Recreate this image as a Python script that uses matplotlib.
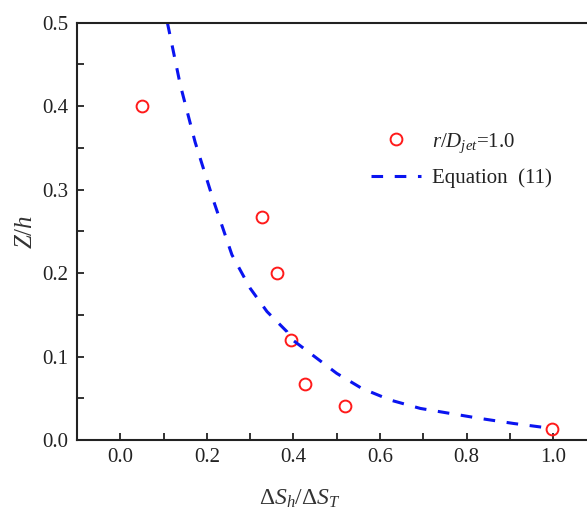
"""Z/h against entropy ratio, measured points and Equation (11)."""

import matplotlib

matplotlib.use("Agg")
import matplotlib.pyplot as plt
from matplotlib.ticker import MultipleLocator

plt.rcParams["font.family"] = ["Liberation Serif", "DejaVu Serif"]
plt.rcParams["mathtext.fontset"] = "custom"
plt.rcParams["mathtext.rm"] = "Liberation Serif"
plt.rcParams["mathtext.it"] = "Liberation Serif:italic"

# measured points, r/D_jet = 1.0
ds_ratio = [0.05, 0.327, 0.362, 0.395, 0.426, 0.518, 0.998]
z_over_h = [0.400, 0.267, 0.200, 0.120, 0.067, 0.041, 0.013]

# Equation (11)
eq_x = [0.109, 0.139, 0.173, 0.216, 0.258, 0.300, 0.339, 0.385, 0.393,
        0.439, 0.500, 0.558, 0.624, 0.693, 0.762, 0.831, 0.908, 0.997]
eq_y = [0.500, 0.425, 0.357, 0.286, 0.222, 0.182, 0.154, 0.130, 0.122,
        0.104, 0.080, 0.062, 0.048, 0.038, 0.032, 0.026, 0.020, 0.014]

fig = plt.figure(figsize=(5.87, 5.16), dpi=100)
ax = fig.add_axes([0.131, 0.147, 0.869, 0.809])

ax.plot(ds_ratio, z_over_h, linestyle="none", marker="o", markersize=8.5,
        markerfacecolor="none", markeredgecolor="#ff1a1a", markeredgewidth=1.4,
        label=r"$r/D_{jet}$=1.0")
ax.plot(eq_x, eq_y, color="#0a14f0", linewidth=2.2, dashes=(3.8, 3.8),
        label="Equation  (11)")

ax.set_xlim(-0.1, 1.078)
ax.set_ylim(0.0, 0.5)
ax.xaxis.set_major_locator(MultipleLocator(0.2))
ax.xaxis.set_minor_locator(MultipleLocator(0.1))
ax.yaxis.set_major_locator(MultipleLocator(0.1))
ax.yaxis.set_minor_locator(MultipleLocator(0.05))
ax.xaxis.set_major_formatter(lambda v, pos: f"{v:.1f}")
ax.yaxis.set_major_formatter(lambda v, pos: f"{v:.1f}")

ax.tick_params(which="both", direction="in", length=5, width=1.3,
               labelsize=15, colors="#222222", top=False, right=False, pad=6)
for side in ("left", "bottom", "top"):
    ax.spines[side].set_linewidth(1.5)
    ax.spines[side].set_color("#222222")
ax.spines["right"].set_visible(False)

ax.set_xlabel(r"$\Delta S_h/\Delta S_T$", fontsize=17, color="#333333")
ax.set_ylabel(r"$Z/h$", fontsize=18, color="#333333")
ax.xaxis.set_label_coords(0.437, -0.115)
ax.yaxis.set_label_coords(-0.078, 0.5)

leg = ax.legend(loc="upper left", bbox_to_anchor=(0.54, 0.785), frameon=False,
                fontsize=15, handlelength=2.4, handletextpad=0.5,
                labelspacing=0.65, labelcolor="#222222")

fig.savefig("out.png", dpi=100)
